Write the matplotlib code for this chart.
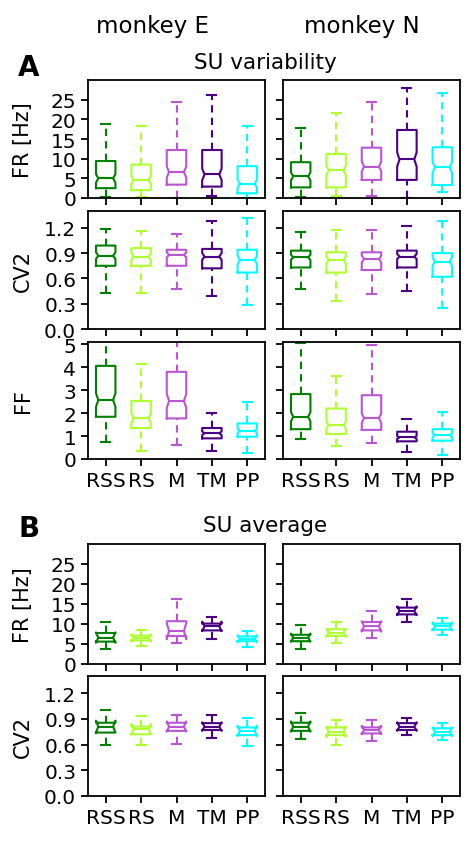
import matplotlib
matplotlib.use("Agg")
import matplotlib.pyplot as plt

cell_types = ["RSS", "RS", "M", "TM", "PP"]
colors = ["green", "greenyellow", "mediumorchid", "indigo", "cyan"]

# each panel: rows are whislo, q1, median, q3, whishi; one column per cell type
fr_var_E = [[0.2, 0.2, 0.0, 0.6, 0.0],
            [2.5, 2.0, 3.4, 2.9, 1.2],
            [5.0, 4.6, 6.6, 6.0, 3.6],
            [9.4, 8.5, 12.2, 12.2, 8.1],
            [18.7, 18.3, 24.4, 26.3, 18.3]]
fr_var_N = [[0.3, 0.4, 0.6, 0.0, 1.5],
            [2.7, 2.7, 4.6, 4.6, 3.3],
            [5.5, 7.0, 8.0, 9.8, 7.8],
            [9.1, 11.2, 12.8, 17.3, 12.9],
            [17.8, 21.6, 24.4, 28.0, 26.8]]
cv2_var_E = [[0.43, 0.43, 0.48, 0.39, 0.28],
             [0.75, 0.75, 0.75, 0.72, 0.67],
             [0.87, 0.86, 0.88, 0.86, 0.82],
             [0.99, 0.96, 0.94, 0.95, 0.94],
             [1.19, 1.16, 1.13, 1.28, 1.32]]
cv2_var_N = [[0.48, 0.33, 0.42, 0.45, 0.25],
             [0.73, 0.67, 0.70, 0.73, 0.62],
             [0.85, 0.82, 0.83, 0.86, 0.80],
             [0.93, 0.91, 0.91, 0.93, 0.90],
             [1.15, 1.17, 1.17, 1.22, 1.28]]
ff_var_E = [[0.73, 0.33, 0.62, 0.36, 0.26],
            [1.84, 1.35, 1.77, 0.90, 0.97],
            [2.57, 1.77, 2.53, 1.12, 1.23],
            [4.06, 2.53, 3.80, 1.35, 1.55],
            [5.6, 4.13, 5.6, 1.99, 2.5]]
ff_var_N = [[0.87, 0.58, 0.70, 0.32, 0.17],
            [1.30, 1.09, 1.27, 0.77, 0.80],
            [1.84, 1.48, 1.78, 0.94, 1.04],
            [2.83, 2.20, 2.78, 1.19, 1.30],
            [5.05, 3.62, 4.97, 1.74, 2.03]]
fr_avg_E = [[3.8, 4.6, 5.2, 6.3, 4.2],
            [5.6, 5.9, 7.0, 8.4, 5.7],
            [6.6, 6.5, 8.2, 9.4, 6.3],
            [7.75, 7.1, 10.7, 10.1, 6.9],
            [10.5, 8.6, 16.2, 11.8, 8.2]]
fr_avg_N = [[3.8, 5.2, 6.6, 10.4, 7.3],
            [5.7, 7.0, 8.4, 12.4, 8.6],
            [6.6, 7.8, 9.4, 13.3, 9.4],
            [7.3, 8.7, 10.5, 14.1, 10.1],
            [9.7, 10.5, 13.2, 16.2, 11.4]]
cv2_avg_E = [[0.60, 0.60, 0.61, 0.68, 0.58],
             [0.74, 0.72, 0.76, 0.77, 0.71],
             [0.81, 0.78, 0.81, 0.81, 0.76],
             [0.855, 0.81, 0.855, 0.85, 0.80],
             [1.00, 0.93, 0.95, 0.95, 0.91]]
cv2_avg_N = [[0.67, 0.60, 0.64, 0.71, 0.65],
             [0.76, 0.71, 0.73, 0.77, 0.71],
             [0.81, 0.75, 0.77, 0.81, 0.75],
             [0.855, 0.80, 0.80, 0.85, 0.79],
             [0.965, 0.89, 0.886, 0.906, 0.85]]

# notch half widths (confidence interval around the median)
notch_fr_var_E = [1.1, 1.0, 1.4, 1.5, 1.0]
notch_fr_var_N = [1.0, 1.3, 1.2, 1.8, 1.4]
notch_cv2_var_E = [0.04, 0.04, 0.03, 0.04, 0.05]
notch_cv2_var_N = [0.03, 0.04, 0.04, 0.03, 0.05]
notch_ff_var_E = [0.3, 0.2, 0.3, 0.08, 0.1]
notch_ff_var_N = [0.2, 0.15, 0.2, 0.06, 0.08]
notch_fr_avg_E = [1.3, 0.9, 2.0, 1.2, 0.9]
notch_fr_avg_N = [1.0, 1.0, 1.3, 1.1, 1.0]
notch_cv2_avg_E = [0.07, 0.06, 0.06, 0.05, 0.06]
notch_cv2_avg_N = [0.06, 0.06, 0.05, 0.05, 0.05]

LW = 1.5
BOX_W = 0.55
CAP_W = 0.25
DASH = (0, (3.5, 2.5))


def draw_boxes(ax, stats, notch):
    hw = BOX_W / 2
    nw = hw * 0.76  # notch only bites in a little
    cw = CAP_W / 2
    for i, c in enumerate(colors):
        x = i + 1
        lo, q1, med, q3, hi = [row[i] for row in stats]
        n = notch[i]
        xs = [x - hw, x - hw, x - nw, x - hw, x - hw, x + hw, x + hw, x + nw, x + hw, x + hw, x - hw]
        ys = [q1, med - n, med, med + n, q3, q3, med + n, med, med - n, q1, q1]
        ax.plot(xs, ys, color=c, lw=LW)
        ax.plot([x - nw, x + nw], [med, med], color=c, lw=LW)
        ax.plot([x, x], [lo, q1], color=c, lw=LW, linestyle=DASH)
        ax.plot([x, x], [q3, hi], color=c, lw=LW, linestyle=DASH)
        ax.plot([x - cw, x + cw], [lo, lo], color=c, lw=LW)
        ax.plot([x - cw, x + cw], [hi, hi], color=c, lw=LW)


def style_axis(ax, ylim, yticks, ylabel, show_x, show_y):
    ax.set_xlim(0.5, 5.5)
    ax.set_ylim(*ylim)
    ax.set_yticks(yticks)
    ax.set_xticks(range(1, 6))
    ax.set_xticklabels(cell_types if show_x else [])
    if not show_y:
        ax.set_yticklabels([])
    else:
        ax.set_ylabel(ylabel, fontsize=15)
        ax.yaxis.set_label_coords(-0.31, 0.5)
    ax.tick_params(axis="y", labelsize=14.5, length=5, width=1.3)
    ax.tick_params(axis="x", labelsize=14.5, length=5, width=1.3)
    for sp in ax.spines.values():
        sp.set_linewidth(1.3)


W, H = 475, 845
fig = plt.figure(figsize=(W / 100, H / 100), dpi=100)

col_x = [88, 283]
col_w = 177
rows = [(81, 199), (212, 330), (343, 460), (545, 665), (677, 797)]

panels = [
    (fr_var_E, fr_var_N, notch_fr_var_E, notch_fr_var_N, (0, 30), [0, 5, 10, 15, 20, 25], "FR [Hz]", False),
    (cv2_var_E, cv2_var_N, notch_cv2_var_E, notch_cv2_var_N, (0, 1.4), [0.0, 0.3, 0.6, 0.9, 1.2], "CV2", False),
    (ff_var_E, ff_var_N, notch_ff_var_E, notch_ff_var_N, (0, 5.1), [0, 1, 2, 3, 4, 5], "FF", True),
    (fr_avg_E, fr_avg_N, notch_fr_avg_E, notch_fr_avg_N, (0, 30), [0, 5, 10, 15, 20, 25], "FR [Hz]", False),
    (cv2_avg_E, cv2_avg_N, notch_cv2_avg_E, notch_cv2_avg_N, (0, 1.4), [0.0, 0.3, 0.6, 0.9, 1.2], "CV2", True),
]

for (top, bot), (sE, sN, nE, nN, ylim, yt, lab, show_x) in zip(rows, panels):
    for j, (stats, notch) in enumerate([(sE, nE), (sN, nN)]):
        ax = fig.add_axes([col_x[j] / W, 1 - bot / H, col_w / W, (bot - top) / H])
        draw_boxes(ax, stats, notch)
        style_axis(ax, ylim, yt, lab, show_x, j == 0)

fig.text(152 / W, 1 - 27 / H, "monkey E", fontsize=16.5, ha="center", va="center")
fig.text(362 / W, 1 - 27 / H, "monkey N", fontsize=16.5, ha="center", va="center")
fig.text(29 / W, 1 - 68 / H, "A", fontsize=20, fontweight="bold", ha="center", va="center")
fig.text(265 / W, 1 - 63 / H, "SU variability", fontsize=15.5, ha="center", va="center")
fig.text(29 / W, 1 - 529 / H, "B", fontsize=20, fontweight="bold", ha="center", va="center")
fig.text(265 / W, 1 - 526 / H, "SU average", fontsize=15.5, ha="center", va="center")

fig.savefig("out.png", dpi=100)
